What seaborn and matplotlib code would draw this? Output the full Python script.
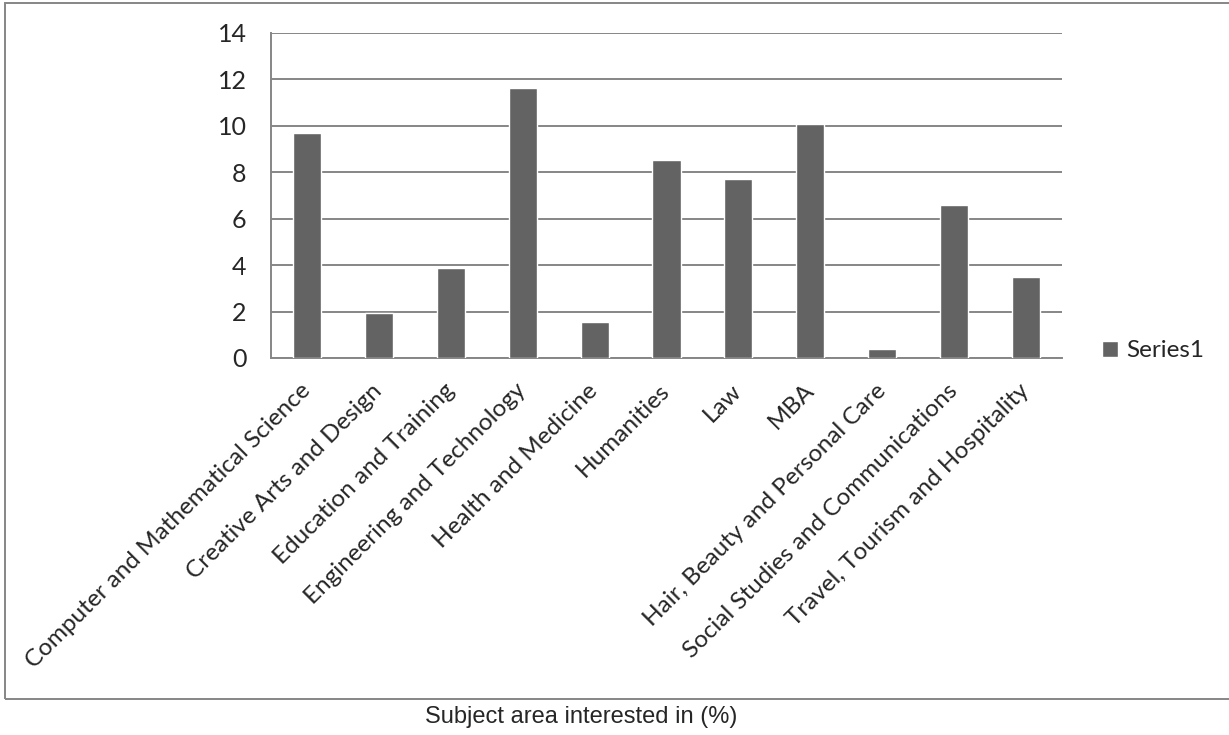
import matplotlib
matplotlib.use("Agg")
import matplotlib.pyplot as plt
import matplotlib.patches as mpatches
from matplotlib.ticker import FixedLocator
import seaborn as sns

subjects = [
    "Computer and Mathematical Science",
    "Creative Arts and Design",
    "Education and Training",
    "Engineering and Technology",
    "Health and Medicine",
    "Humanities",
    "Law",
    "MBA",
    "Hair, Beauty and Personal Care",
    "Social Studies and Communications",
    "Travel, Tourism and Hospitality",
]
interest_pct = [9.68, 1.93, 3.86, 11.63, 1.55, 8.51, 7.73, 10.07, 0.37, 6.58, 3.48]
series_name = "Series1"
y_ticks = [0, 2, 4, 6, 8, 10, 12, 14]
x_title = "Subject area interested in (%)"

GRAY = "#868686"
BAR = "#636363"

sns.set_style("white")
plt.rcParams['font.family'] = ['Lato', 'DejaVu Sans']

fig = plt.figure(figsize=(12.29, 7.35), dpi=100)
ax = fig.add_axes([271 / 1229, 1 - 358 / 735, (1062 - 271) / 1229, (358 - 33) / 735])

sns.barplot(x=subjects, y=interest_pct, color=BAR, saturation=1, width=0.39,
            label=series_name, ax=ax, zorder=3)

ax.set_xlim(-0.5, len(subjects) - 0.5)
ax.set_ylim(0, 14)
ax.set_yticks(y_ticks)
ax.yaxis.grid(True, color=GRAY, linewidth=1.4, zorder=0)
ax.set_axisbelow(True)

for side in ["top", "right"]:
    ax.spines[side].set_visible(False)
for side in ["left", "bottom"]:
    ax.spines[side].set_color(GRAY)
    ax.spines[side].set_linewidth(1.4)

# category boundary ticks on x
ax.xaxis.set_minor_locator(FixedLocator([i - 0.5 for i in range(len(subjects) + 1)]))
ax.tick_params(axis="x", which="major", length=0, pad=21)
ax.tick_params(axis="x", which="minor", length=6.5, width=1.4, color=GRAY, direction="out")
ax.tick_params(axis="y", length=6.5, width=1.4, color=GRAY, direction="out", pad=11,
               labelsize=18)
ax.set_xticks(range(len(subjects)))
ax.set_xticklabels(subjects, rotation=45, ha="right", va="center",
                   rotation_mode="anchor", fontsize=17.5)
ax.set_xlabel("")
ax.set_ylabel("")

leg = ax.legend(loc="center left", bbox_to_anchor=(1092 / 1229, 1 - 351 / 735),
                bbox_transform=fig.transFigure, frameon=False, fontsize=17.5,
                handlelength=0.65, handleheight=0.65, handletextpad=0.35,
                borderaxespad=0)

fig.text(581 / 1229, 1 - 717 / 735, x_title, ha="center", va="center",
         fontsize=17, family=["Liberation Sans", "DejaVu Sans"])

border = mpatches.Rectangle((5 / 1229, 1 - 699 / 735), 1.2, (699 - 3) / 735,
                            transform=fig.transFigure, fill=False,
                            edgecolor=GRAY, linewidth=1.4)
fig.patches.append(border)

fig.savefig("out.png", dpi=100)
